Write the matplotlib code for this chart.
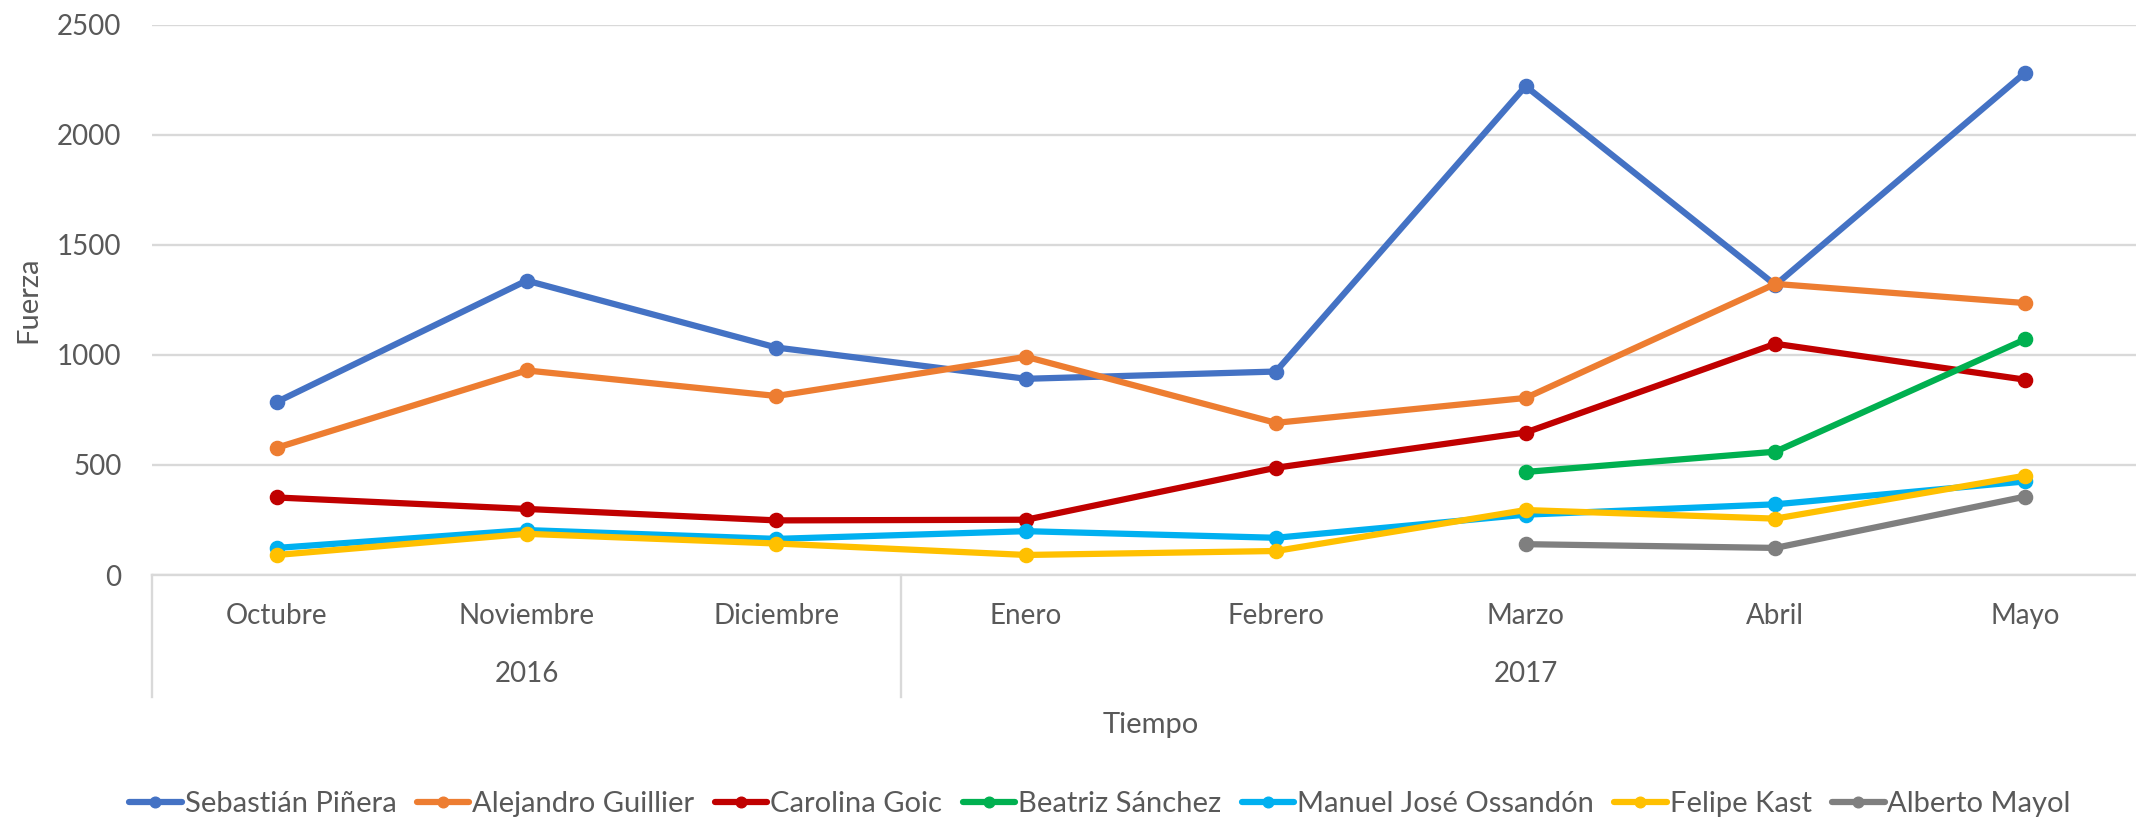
import numpy as np
import matplotlib
matplotlib.use("Agg")
import matplotlib.pyplot as plt

# Monthly values (NaN = no data for that month)
months = ["Octubre", "Noviembre", "Diciembre", "Enero", "Febrero", "Marzo", "Abril", "Mayo"]
years = ["2016", "2017"]
year_spans = [(0, 2), (3, 7)]  # first and last month index of each year

nan = np.nan
pinera = [786, 1337, 1033, 891, 924, 2220, 1317, 2281]
guillier = [578, 929, 813, 991, 691, 804, 1322, 1235]
goic = [352, 300, 248, 251, 487, 647, 1050, 887]
sanchez = [nan, nan, nan, nan, nan, 468, 560, 1070]
ossandon = [123, 204, 164, 199, 169, 274, 321, 425]
kast = [91, 187, 143, 91, 109, 295, 256, 451]
mayol = [nan, nan, nan, nan, nan, 140, 123, 356]

series = [
    ("Sebastián Piñera", pinera, "#4472C4"),
    ("Alejandro Guillier", guillier, "#ED7D31"),
    ("Carolina Goic", goic, "#C00000"),
    ("Beatriz Sánchez", sanchez, "#00B050"),
    ("Manuel José Ossandón", ossandon, "#00B0F0"),
    ("Felipe Kast", kast, "#FFC000"),
    ("Alberto Mayol", mayol, "#7F7F7F"),
]

TEXT = "#595959"
GRID = "#D9D9D9"
plt.rcParams["font.family"] = ["Lato", "DejaVu Sans"]

W, H = 2136, 822
fig = plt.figure(figsize=(W / 100, H / 100), dpi=100)
# plot area: left edge at x=152px, spans 8 categories of ~250px (runs past the right edge)
ax = fig.add_axes([152 / W, 1 - 575 / H, 1998 / W, 550.5 / H])

x = np.arange(len(months))
for name, vals, col in series:
    ax.plot(x, vals, color=col, lw=4.5, marker="o", ms=10.2, label=name,
            solid_capstyle="round")

ax.set_xlim(-0.5, len(months) - 0.5)
ax.set_ylim(0, 2500)
ax.set_yticks(np.arange(0, 2501, 500))
ax.yaxis.grid(True, color=GRID, lw=1.7)
ax.set_axisbelow(True)
for s in ["left", "right", "top"]:
    ax.spines[s].set_visible(False)
ax.spines["bottom"].set_color(GRID)
ax.spines["bottom"].set_linewidth(1.7)
ax.tick_params(axis="y", length=0, pad=22, labelsize=20, labelcolor=TEXT)
ax.tick_params(axis="x", length=0, labelbottom=False)

# multi-level category axis drawn by hand
ah = 550.5
trans = ax.get_xaxis_transform()
for i, m in enumerate(months):
    ax.text(i, -41 / ah, m, transform=trans, ha="center", va="center",
            fontsize=20, color=TEXT)
for yr, (a, b) in zip(years, year_spans):
    ax.text((a + b) / 2, -99 / ah, yr, transform=trans, ha="center", va="center",
            fontsize=20, color=TEXT)
for xs in [-0.5, 2.5, 7.5]:
    ax.plot([xs, xs], [0, -122 / ah], transform=trans, color=GRID, lw=1.7,
            clip_on=False)

fig.text(1151 / W, 1 - 725 / H, "Tiempo", ha="center", va="center",
         fontsize=21, color=TEXT)
fig.text(28 / W, 1 - 300 / H, "Fuerza", ha="center", va="center",
         rotation=90, fontsize=21, color=TEXT)

leg = fig.legend(loc="center", bbox_to_anchor=(1100 / W, 1 - 804 / H), ncol=7,
                 frameon=False, fontsize=21, handlelength=1.8, handletextpad=0.1,
                 columnspacing=0.7, markerscale=0.75)
for t in leg.get_texts():
    t.set_color(TEXT)

fig.savefig("out.png", dpi=100)
